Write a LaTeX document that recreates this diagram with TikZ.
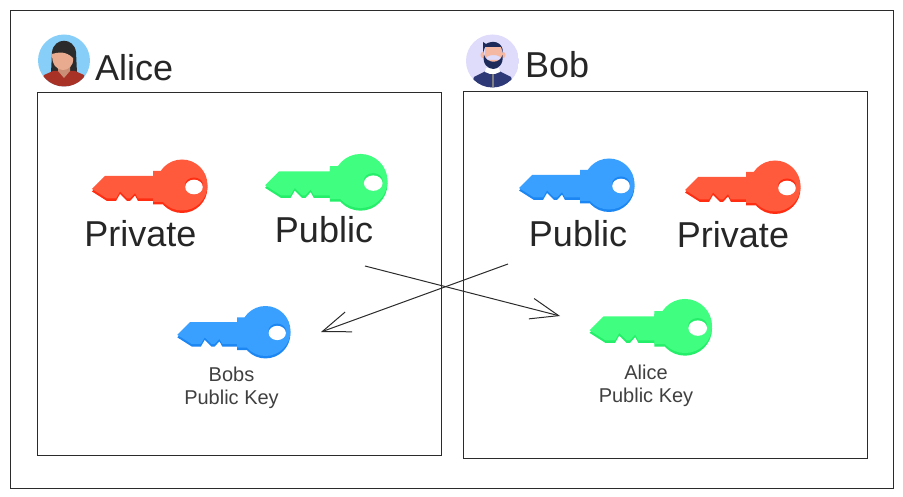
\documentclass[tikz,border=0pt]{standalone}
\usepackage{fontspec}
\setmainfont{Liberation Sans}
\usetikzlibrary{arrows.meta}
\definecolor{redkey}{HTML}{FF5A3C}
\definecolor{redkeyd}{HTML}{FF2E12}
\definecolor{greenkey}{HTML}{40FF80}
\definecolor{greenkeyd}{HTML}{25EE6A}
\definecolor{bluekey}{HTML}{39A0FF}
\definecolor{bluekeyd}{HTML}{1C86F2}
\definecolor{linegray}{HTML}{2B2B2B}
\definecolor{alicesky}{HTML}{87CFF8}
\definecolor{alicehair}{HTML}{2B2B2B}
\definecolor{aliceskin}{HTML}{E8AB90}
\definecolor{aliceneck}{HTML}{C98E75}
\definecolor{alicetop}{HTML}{A93226}
\definecolor{boblilac}{HTML}{DFDBFA}
\definecolor{bobnavy}{HTML}{1C2B5A}
\definecolor{bobcoat}{HTML}{2E3A78}
\definecolor{bobskin}{HTML}{F5B8A3}
\newcommand{\keyshape}{(-90,4) -- (-77,-9) -- (-29,-9) -- (-29,-14) -- (-17,-14) -- (-17,17) -- (-29,17) -- (-29,13.5)
    -- (-44,13.5) -- (-47,8) -- (-52,13.5) -- (-55,13.5) -- (-62,6.5) -- (-66,13.5) -- (-75,13.5) -- cycle (0,0) circle (25.5)}
\tikzset{
  pics/keyicon/.style 2 args={code={
    \fill[#2,yshift=-2.5pt] \keyshape;
    \fill[#1] \keyshape;
    \fill[#2] (12,0) ellipse (9 and 7.5);
    \fill[white] (12,2) ellipse (8.8 and 7.3);
  }},
  box/.style={draw=linegray,line width=0.9pt},
  big/.style={inner sep=0pt,font=\fontsize{36}{36}\selectfont,text=black!85},
  small/.style={inner sep=0pt,align=center,font=\fontsize{20}{23}\selectfont,text=black!75},
  swap/.style={-{Straight Barb[length=28pt,width=21pt]},line width=1pt,draw=linegray}
}
\begin{document}
\begin{tikzpicture}[x=1pt,y=-1pt]
  \useasboundingbox (0,0) rectangle (903,497);
  \draw[box] (10,10) rectangle (893,488);
  \draw[box] (37.5,92.5) rectangle (441.5,455.5);
  \draw[box] (463.5,91.5) rectangle (867.5,458.5);
  % Alice
  \begin{scope}
    \clip (64,60.5) circle (26);
    \fill[alicesky] (38,34) rectangle (90,87);
    \fill[alicehair] (51,73) -- (52,52) .. controls (54,37) and (74,37) .. (76,52) -- (77,73) -- cycle;
    \fill[alicetop] (40,90) -- (44,75) -- (53,71) -- (75,71) -- (84,75) -- (88,90) -- cycle;
    \fill[aliceneck] (58,66) -- (70,66) -- (70,71) -- (64,78) -- (58,71) -- cycle;
    \fill[aliceskin] (52,54) .. controls (58,52) and (66,51) .. (73,58) .. controls (74,66) and (68,70) .. (63,70) .. controls (56,70) and (52,64) .. (52,54) -- cycle;
  \end{scope}
  \node[big,anchor=west] (alice) at (95,68) {Alice};
  % Bob
  \begin{scope}
    \clip (492.5,61) circle (26.5);
    \fill[boblilac] (466,34) rectangle (519,88);
    \fill[bobcoat] (470,90) -- (474,77) -- (486,71) -- (499,71) -- (511,77) -- (515,90) -- cycle;
    \fill[white] (486,68) -- (499,68) -- (500,72) -- (495,74) -- (490,74) -- (485,72) -- cycle;
    \fill[gray] (492,74) rectangle (494,88);
    \fill[bobskin] (482.5,55) ellipse (2 and 3) (503.5,55) ellipse (2 and 3);
    \fill[bobskin] (485,46) rectangle (502,60) (493.5,60) ellipse (8.5 and 5);
    \fill[bobnavy] (484,55) .. controls (487,64) and (500,64) .. (502.5,55) .. controls (504,64) and (498,69) .. (493.5,69) .. controls (488,69) and (482,64) .. (484,55) -- cycle;
    \fill[bobnavy] (483,53) -- (483,42) -- (486,44) .. controls (492,40) and (503,41) .. (503,53) -- (501,47) -- (485,47) -- cycle;
  \end{scope}
  \node[big,anchor=west] (bob) at (525,65) {Bob};
  % keys
  \pic (alicepriv) at (182,185) {keyicon={redkey}{redkeyd}};
  \pic[scale=1.06] (alicepub) at (360.5,181) {keyicon={greenkey}{greenkeyd}};
  \pic (bobpub) at (609,184) {keyicon={bluekey}{bluekeyd}};
  \pic (bobpriv) at (775,186) {keyicon={redkey}{redkeyd}};
  \pic[scale=0.98] (bobkey) at (265.5,331) {keyicon={bluekey}{bluekeyd}};
  \pic[scale=1.06] (alicekey) at (685,326) {keyicon={greenkey}{greenkeyd}};
  \node[big] (privA) at (140.5,234) {Private};
  \node[big] (pubA) at (324,230) {Public};
  \node[big] (pubB) at (578,234) {Public};
  \node[big] (privB) at (733,235) {Private};
  \node[small] (bobslabel) at (231.5,387.5) {Bobs\\Public Key};
  \node[small] (alicelabel) at (646,385.5) {Alice\\Public Key};
  % exchange
  \coordinate (fromA) at (365,266);
  \coordinate (toB) at (560,316);
  \coordinate (fromB) at (508,264);
  \coordinate (toA) at (321,332);
  \draw[swap] (fromA) -- (toB);
  \draw[swap] (fromB) -- (toA);
\end{tikzpicture}
\end{document}
